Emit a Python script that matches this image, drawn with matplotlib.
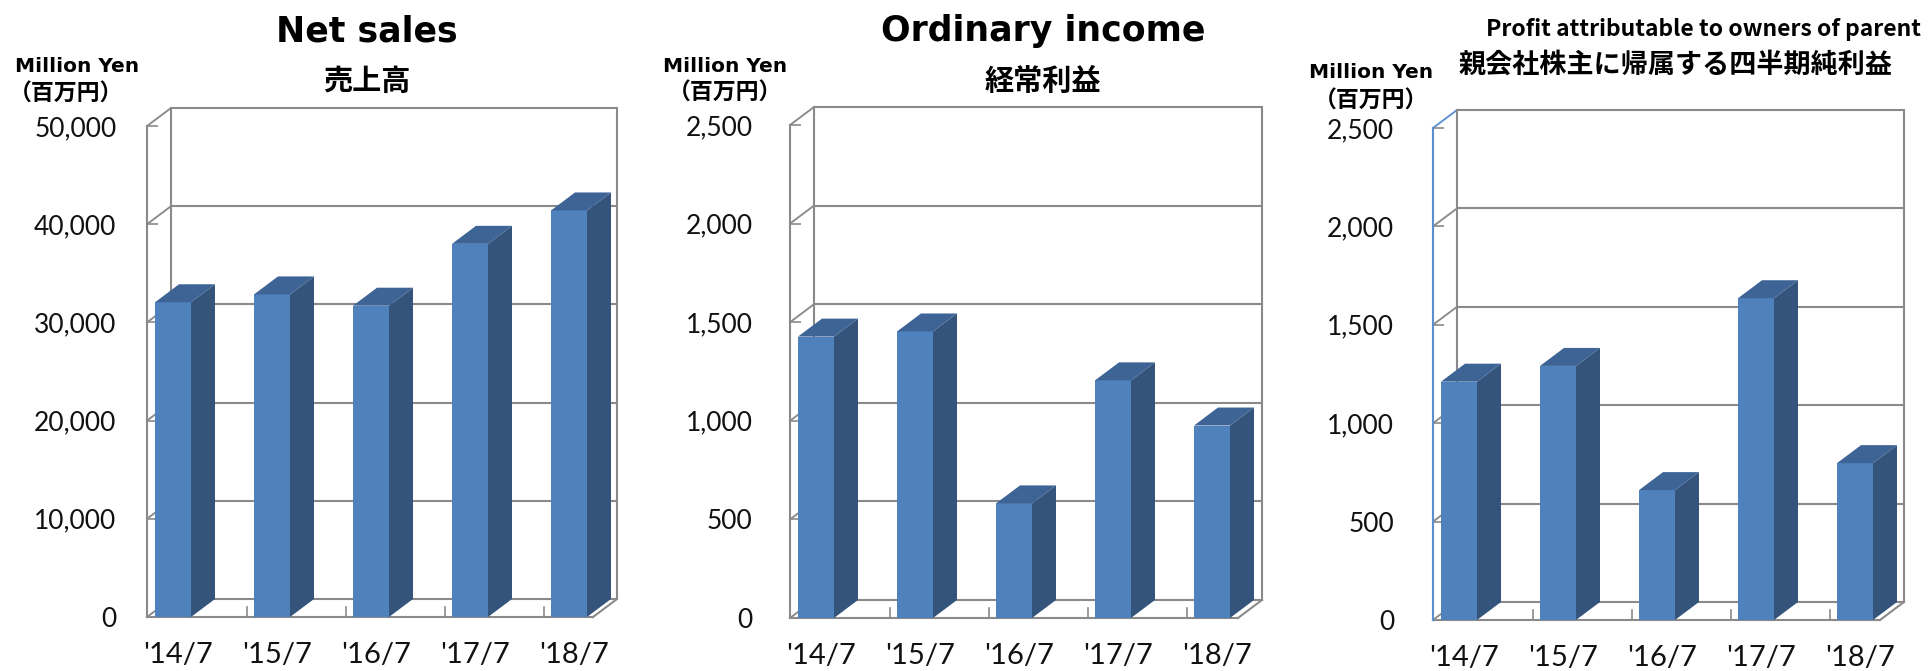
import matplotlib
matplotlib.use("Agg")
import matplotlib.pyplot as plt
from matplotlib.patches import Polygon
from matplotlib.ticker import FuncFormatter
import numpy as np

# ---------------- data ----------------
categories = ["'14/7", "'15/7", "'16/7", "'17/7", "'18/7"]
net_sales = [32050, 32850, 31700, 38000, 41400]
ordinary_income = [1427, 1453, 581, 1205, 976]
profit_parent = [1211, 1291, 660, 1635, 797]

titles_en = ["Net sales", "Ordinary income", "Profit attributable to owners of parent"]
titles_ja = ["売上高", "経常利益", "親会社株主に帰属する四半期純利益"]
unit_en = "Million Yen"
unit_ja = "（百万円）"
y_max = [50000, 2500, 2500]
y_step = [10000, 500, 500]

# ---------------- style ----------------
W, H, DPI = 1929, 671, 100
FRONT = "#4F81BD"
SIDE = "#34547C"
TOP = "#3E6496"
GRID = "#8A8A8A"
AXBLUE = "#5B8FD0"
CJK = ["Noto Sans CJK JP", "DejaVu Sans"]
plt.rcParams["font.family"] = ["Lato", "DejaVu Sans"]

fig = plt.figure(figsize=(W / DPI, H / DPI), dpi=DPI)
fig.patch.set_facecolor("white")

# layout in pixels (x0, x1, ytop, ybot) of front plot rectangle
layouts = [
    dict(rect=(147, 593, 126, 617), ypad=22, title=(367, 41, 25, "DejaVu Sans"),
         sub=(367, 81, 21), unit=(77, 67, 14.5), unitja=(66, 94),
         left_color=GRID, top_color=GRID),
    dict(rect=(790, 1238, 125, 618), ypad=27, title=(1043, 41, 25, "DejaVu Sans"),
         sub=(1043, 81, 21), unit=(725, 66, 14.5), unitja=(725, 93),
         left_color=GRID, top_color=GRID),
    dict(rect=(1433, 1880, 128, 620), ypad=28, title=(1704, 36, 16.5, "Noto Sans CJK JP"),
         sub=(1676, 65, 19.5), unit=(1371, 73, 14.5), unitja=(1371, 101),
         left_color=AXBLUE, top_color=AXBLUE),
]
series = [net_sales, ordinary_income, profit_parent]

CAT_PX = 99.0
BAR_OFF_PX = 26.0
BAR_W_PX = 36.0
DEPTH = (24.0, 18.0)
LW = 1.5


def fmt(v, pos):
    return f"{int(round(v)):,}"


for k in range(3):
    L = layouts[k]
    x0, x1, yt, yb = L["rect"]
    ax = fig.add_axes([x0 / W, (H - yb) / H, (x1 - x0) / W, (yb - yt) / H])
    ax.set_facecolor("none")
    vals = series[k]
    ymax, step = y_max[k], y_step[k]
    wpx, hpx = x1 - x0, yb - yt
    xlo = -BAR_OFF_PX / CAT_PX
    xhi = xlo + wpx / CAT_PX
    ax.set_xlim(xlo, xhi)
    ax.set_ylim(0, ymax)
    uy = hpx / ymax
    ddx = DEPTH[0] / CAT_PX
    ddy = DEPTH[1] / uy
    ticks = np.arange(0, ymax + step / 2, step)

    # back wall grid and side wall diagonals
    for t in ticks:
        ax.plot([xlo + ddx, xhi + ddx], [t + ddy, t + ddy], color=GRID, lw=LW,
                clip_on=False, zorder=1, solid_capstyle="butt")
        c = L["top_color"] if t == ymax else GRID
        ax.plot([xlo, xlo + ddx], [t, t + ddy], color=c, lw=LW * 0.9,
                clip_on=False, zorder=1)
    ax.plot([xlo + ddx] * 2, [ddy, ymax + ddy], color=GRID, lw=LW, clip_on=False, zorder=1)
    ax.plot([xhi + ddx] * 2, [ddy, ymax + ddy], color=GRID, lw=LW, clip_on=False, zorder=1)
    ax.plot([xhi, xhi + ddx], [0, ddy], color=GRID, lw=LW, clip_on=False, zorder=1)
    # floor tick marks between categories
    for i in range(len(vals) - 1):
        ax.plot([i + 0.5 + ddx] * 2, [0, ddy * 0.55], color=GRID, lw=LW * 0.8,
                clip_on=False, zorder=1)

    # bars
    xs = np.arange(len(vals))
    bw = BAR_W_PX / CAT_PX
    ax.bar(xs, vals, width=bw, color=FRONT, linewidth=0, zorder=5)
    for xi, v in zip(xs, vals):
        xl, xr = xi - bw / 2, xi + bw / 2
        ax.add_patch(Polygon([(xr, 0), (xr + ddx, ddy), (xr + ddx, v + ddy), (xr, v)],
                             closed=True, facecolor=SIDE, edgecolor="none",
                             zorder=5, clip_on=False))
        ax.add_patch(Polygon([(xl, v), (xr, v), (xr + ddx, v + ddy), (xl + ddx, v + ddy)],
                             closed=True, facecolor=TOP, edgecolor="none",
                             zorder=5, clip_on=False))

    # spines
    for s in ("top", "right"):
        ax.spines[s].set_visible(False)
    ax.spines["left"].set_color(L["left_color"])
    ax.spines["bottom"].set_color(GRID)
    ax.spines["left"].set_linewidth(LW)
    ax.spines["bottom"].set_linewidth(LW)
    ax.spines["left"].set_zorder(6)

    ax.set_yticks(ticks)
    ax.yaxis.set_major_formatter(FuncFormatter(fmt))
    ax.tick_params(axis="y", direction="in", length=8, width=1.2, color=GRID,
                   pad=L["ypad"], labelsize=19, labelcolor="#111111")
    ax.set_xticks(xs + 0.05)
    ax.set_xticklabels(categories)
    ax.tick_params(axis="x", length=0, pad=18, labelsize=21, labelcolor="#111111")

    # texts
    tx, ty, ts, tf = L["title"]
    fig.text(tx / W, (H - ty) / H, titles_en[k], ha="center", va="baseline",
             fontsize=ts, fontweight="bold", family=[tf, "DejaVu Sans"], color="black")
    sx, sy, ss = L["sub"]
    fig.text(sx / W, (H - sy) / H, titles_ja[k], ha="center", va="center",
             fontsize=ss, fontweight="bold", family=CJK, color="black")
    ux_, uy_, us = L["unit"]
    fig.text(ux_ / W, (H - uy_) / H, unit_en, ha="center", va="center",
             fontsize=us, fontweight="bold", family=["DejaVu Sans"], color="black")
    jx, jy = L["unitja"]
    fig.text(jx / W, (H - jy) / H, unit_ja, ha="center", va="center",
             fontsize=16.5, fontweight="bold", family=CJK, color="black")

fig.savefig("out.png", dpi=DPI, facecolor="white")
